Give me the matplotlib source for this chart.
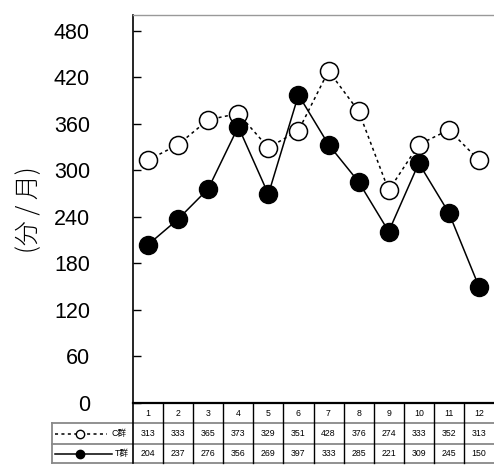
import matplotlib
matplotlib.use("Agg")
import matplotlib.pyplot as plt
from matplotlib.transforms import blended_transform_factory
from matplotlib.lines import Line2D

months = [1, 2, 3, 4, 5, 6, 7, 8, 9, 10, 11, 12]
c_values = [313, 333, 365, 373, 329, 351, 428, 376, 274, 333, 352, 313]
t_values = [204, 237, 276, 356, 269, 397, 333, 285, 221, 309, 245, 150]
c_label = "C群"
t_label = "T群"
y_ticks = [0, 60, 120, 180, 240, 300, 360, 420, 480]
y_label = "(分 / 月)"

W, H = 494, 465
fig = plt.figure(figsize=(W / 100, H / 100), dpi=100)
ax = fig.add_axes([133 / W, (H - 403) / H, 1 - 133 / W, (403 - 15) / H])

ax.plot(months, c_values, color="black", linestyle=(0, (2, 2.2)), linewidth=1.1,
        marker="o", markersize=13, markerfacecolor="white", markeredgecolor="black",
        markeredgewidth=1.1, clip_on=False, zorder=3)
ax.plot(months, t_values, color="black", linestyle="-", linewidth=1.1,
        marker="o", markersize=13, markerfacecolor="black", markeredgecolor="black",
        clip_on=False, zorder=4)

ax.set_xlim(0.5, 12.5)
ax.set_ylim(0, 500)
ax.set_yticks(y_ticks)
ax.set_yticklabels([str(v) for v in y_ticks], fontsize=15.5, family="Liberation Sans")
ax.tick_params(axis="y", direction="in", length=6, width=1, pad=31)
ax.set_xticks([])
ax.spines["right"].set_visible(False)
ax.spines["bottom"].set_visible(False)
ax.spines["top"].set_color("#999999")
ax.spines["top"].set_linewidth(1.0)
ax.spines["left"].set_linewidth(1.2)

fig.text(29 / W, 1 - 210 / H, y_label, rotation=90, fontsize=18, ha="center", va="center",
         family=["Noto Sans CJK JP", "DejaVu Sans"], fontweight="light")

# table below the axes
tr = blended_transform_factory(ax.transData, fig.transFigure)
ftr = fig.transFigure
def fy(py):
    return 1 - py / H

y_top, y_h, y_c, y_b = fy(403), fy(423), fy(444), fy(463)
x_left = 52 / W
x_axis = 133 / W

fig.add_artist(Line2D([x_axis, 1], [y_top, y_top], transform=ftr, color="black", lw=1.6))
for yy in (y_h, y_c, y_b):
    fig.add_artist(Line2D([x_left, 1], [yy, yy], transform=ftr, color="#888888", lw=1.3))
fig.add_artist(Line2D([x_left, x_left], [y_h, y_b], transform=ftr, color="#888888", lw=1.3))
fig.add_artist(Line2D([x_axis, x_axis], [y_top, y_b], transform=ftr, color="black", lw=1.2))
for m in months[:-1]:
    fig.add_artist(Line2D([m + 0.5, m + 0.5], [y_top, y_b], transform=tr, color="black", lw=1.0))

tfont = dict(fontsize=6.3, family=["Liberation Sans", "Noto Sans CJK JP"], ha="center", va="center")
for m, cv, tv in zip(months, c_values, t_values):
    fig.text(m, (y_top + y_h) / 2, str(m), transform=tr, **tfont)
    fig.text(m, (y_h + y_c) / 2, str(cv), transform=tr, **tfont)
    fig.text(m, (y_c + y_b) / 2, str(tv), transform=tr, **tfont)

yc = (y_h + y_c) / 2
yt = (y_c + y_b) / 2
fig.add_artist(Line2D([55 / W, 107 / W], [yc, yc], transform=ftr, color="black",
                      lw=1.1, linestyle=(0, (2, 2.2))))
fig.add_artist(Line2D([80 / W], [yc], transform=ftr, marker="o", markersize=6,
                      markerfacecolor="white", markeredgecolor="black", markeredgewidth=1.0,
                      linestyle="none"))
fig.add_artist(Line2D([55 / W, 112 / W], [yt, yt], transform=ftr, color="black", lw=1.1))
fig.add_artist(Line2D([80 / W], [yt], transform=ftr, marker="o", markersize=6,
                      markerfacecolor="black", markeredgecolor="black", linestyle="none"))
lfont = dict(fontsize=6.3, family=["Liberation Sans", "Noto Sans CJK JP"], ha="right", va="center")
fig.text(127 / W, yc, c_label, **lfont)
fig.text(129 / W, yt, t_label, **lfont)

fig.savefig("out.png", dpi=100)
